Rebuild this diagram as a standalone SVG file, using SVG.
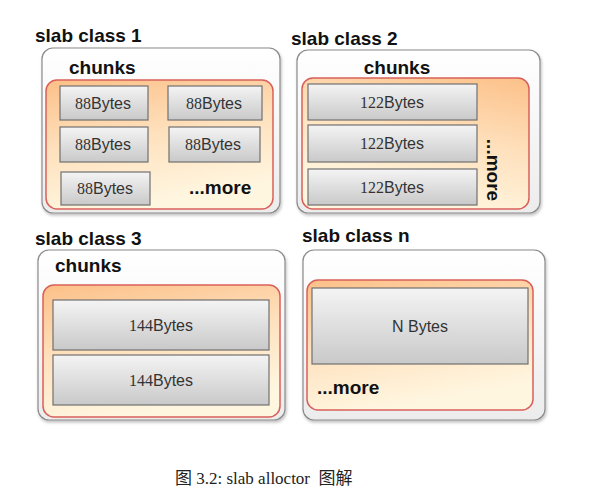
<svg xmlns="http://www.w3.org/2000/svg" width="595" height="500" viewBox="0 0 595 500">
<defs>
<linearGradient id="gOuter" x1="0" y1="0" x2="0" y2="1"><stop offset="0" stop-color="#ffffff"/><stop offset="1" stop-color="#ececec"/></linearGradient>
<linearGradient id="gInner" x1="0" y1="0" x2="0.3" y2="1"><stop offset="0" stop-color="#fcc088"/><stop offset="0.5" stop-color="#fee0bc"/><stop offset="1" stop-color="#fff6e0"/></linearGradient>
<linearGradient id="gInner2" x1="1" y1="0" x2="0.6" y2="1"><stop offset="0" stop-color="#fcc088"/><stop offset="0.5" stop-color="#fee0bc"/><stop offset="1" stop-color="#fff6e0"/></linearGradient>
<linearGradient id="gChunk" x1="0" y1="0" x2="0" y2="1"><stop offset="0" stop-color="#f4f4f4"/><stop offset="1" stop-color="#c9c9c9"/></linearGradient>
<filter id="sh" x="-5%" y="-5%" width="115%" height="120%"><feDropShadow dx="1" dy="2" stdDeviation="1.5" flood-color="#000" flood-opacity="0.25"/></filter>
</defs>
<style>
.title{font-family:"Liberation Sans",Arial,sans-serif;font-weight:bold;font-size:19px;fill:#111}
.chunks{font-family:"Liberation Sans",Arial,sans-serif;font-weight:bold;font-size:19px;fill:#111}
.more{font-family:"Liberation Sans",Arial,sans-serif;font-weight:bold;font-size:19px;fill:#111}
.outer{fill:url(#gOuter);stroke:#8a8a8a;stroke-width:1.2;filter:url(#sh)}
.inner{fill:url(#gInner);stroke:#d9605a;stroke-width:1.5}
.inner2{fill:url(#gInner2);stroke:#d9605a;stroke-width:1.5}
.chunk{fill:url(#gChunk);stroke:#707070;stroke-width:1.2}
.lbl{font-family:"Liberation Sans",Arial,sans-serif;font-size:16px;fill:#333;text-anchor:middle}
.num{font-family:"Liberation Serif","Times New Roman",serif}
.cap{font-family:"Liberation Serif","Noto Sans CJK SC",serif;font-size:17px;fill:#222}
</style>

<g id="slab1">
<text class="title" x="35" y="42">slab class 1</text>
<rect class="outer" x="42" y="48" width="238" height="165" rx="11"/>
<text class="chunks" x="69" y="74">chunks</text>
<rect class="inner" x="46" y="80" width="227" height="129" rx="11"/>
<rect class="chunk" x="60" y="86" width="88" height="34"/>
<text class="lbl" x="103" y="109"><tspan class="num">88</tspan>Bytes</text>
<rect class="chunk" x="168" y="86" width="94" height="34"/>
<text class="lbl" x="214" y="109"><tspan class="num">88</tspan>Bytes</text>
<rect class="chunk" x="60" y="127" width="88" height="35"/>
<text class="lbl" x="103" y="150"><tspan class="num">88</tspan>Bytes</text>
<rect class="chunk" x="169" y="127" width="91" height="35"/>
<text class="lbl" x="213" y="150"><tspan class="num">88</tspan>Bytes</text>
<rect class="chunk" x="61" y="172" width="89" height="33"/>
<text class="lbl" x="105" y="194"><tspan class="num">88</tspan>Bytes</text>
<text class="more" x="189" y="194">...more</text>
</g>

<g id="slab2">
<text class="title" x="291" y="45">slab class 2</text>
<rect class="outer" x="297" y="50" width="243" height="163" rx="11"/>
<text class="chunks" x="397" y="74" text-anchor="middle">chunks</text>
<rect class="inner2" x="302" y="78" width="227" height="131" rx="11"/>
<rect class="chunk" x="308" y="84" width="169" height="36"/>
<text class="lbl" x="392" y="108"><tspan class="num">122</tspan>Bytes</text>
<rect class="chunk" x="308" y="125" width="169" height="37"/>
<text class="lbl" x="392" y="149"><tspan class="num">122</tspan>Bytes</text>
<rect class="chunk" x="308" y="169" width="169" height="36"/>
<text class="lbl" x="392" y="193"><tspan class="num">122</tspan>Bytes</text>
<text class="more" x="0" y="0" text-anchor="middle" transform="translate(487,170) rotate(90)">...more</text>
</g>

<g id="slab3">
<text class="title" x="35" y="245">slab class 3</text>
<rect class="outer" x="38" y="250" width="247" height="170" rx="11"/>
<text class="chunks" x="55" y="272">chunks</text>
<rect class="inner" x="43" y="285" width="237" height="132" rx="11"/>
<rect class="chunk" x="53" y="300" width="216" height="50"/>
<text class="lbl" x="161" y="331"><tspan class="num">144</tspan>Bytes</text>
<rect class="chunk" x="53" y="355" width="216" height="50"/>
<text class="lbl" x="161" y="386"><tspan class="num">144</tspan>Bytes</text>
</g>

<g id="slabn">
<text class="title" x="302" y="242">slab class n</text>
<rect class="outer" x="303" y="250" width="242" height="170" rx="11"/>
<rect class="inner" x="307" y="280" width="226" height="130" rx="11"/>
<rect class="chunk" x="312" y="288" width="216" height="76"/>
<text class="lbl" x="420" y="332">N Bytes</text>
<text class="more" x="317" y="394">...more</text>
</g>

<g id="connectors"></g>

<text class="cap" x="175" y="484" xml:space="preserve">图 3.2: slab alloctor  图解</text>
</svg>
